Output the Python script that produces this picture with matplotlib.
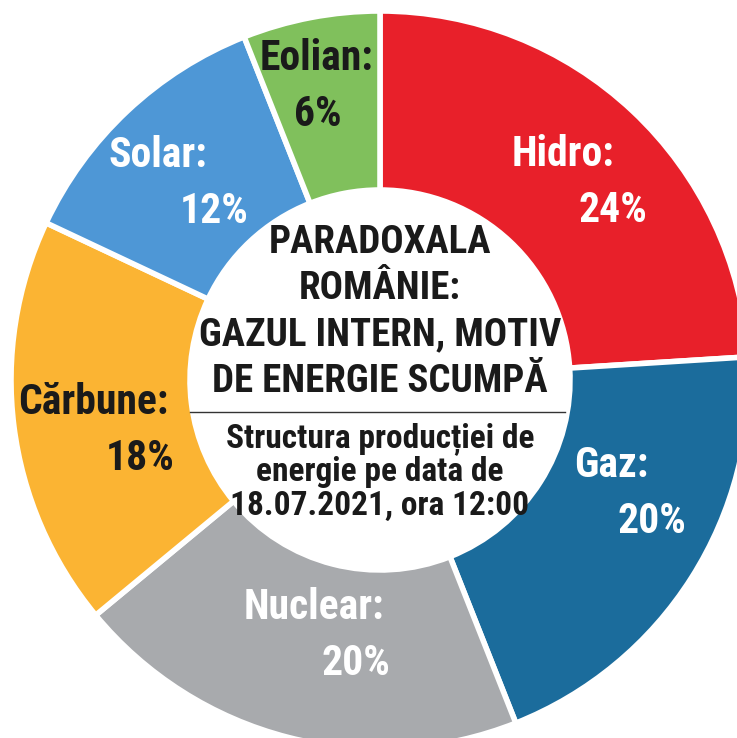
import matplotlib
matplotlib.use("Agg")
import matplotlib.pyplot as plt
import numpy as np

# date
surse = ["Hidro", "Gaz", "Nuclear", "Cărbune", "Solar", "Eolian"]
procente = [24, 20, 20, 18, 12, 6]
culori = ["#E8202A", "#1B6C9C", "#A8AAAD", "#FBB433", "#4E97D6", "#80C05C"]
culori_text = ["white", "white", "white", "#1a1a1a", "white", "#1a1a1a"]

titlu = "PARADOXALA\nROMÂNIE:\nGAZUL INTERN, MOTIV\nDE ENERGIE SCUMPĂ"
subtitlu = "Structura producției de\nenergie pe data de\n18.07.2021, ora 12:00"
sursa = "SURSA: Transelectrica"

plt.rcParams['font.family'] = ['Roboto Condensed', 'PT Sans Narrow', 'DejaVu Sans']

fig = plt.figure(figsize=(7.37, 7.38), dpi=100)
ax = fig.add_axes([0, 0, 1, 1])

R = 369
r_in = 190
wedges, _ = ax.pie(procente, colors=culori, radius=R, startangle=90,
                   counterclock=False,
                   wedgeprops=dict(width=R - r_in, edgecolor="white", linewidth=4))

# pozitia etichetelor: raza, deviatie unghi, decalaj orizontal
raze = [287, 276, 259, 268, 276, 300]
dev_unghi = [-3.2, 8.2, 4.4, 3.6, 1.5, 1.3]
decalaj = [25, 20, 21, 23, 28, 1]

for w, nume, p, c, rr, du, d in zip(wedges, surse, procente, culori_text,
                                    raze, dev_unghi, decalaj):
    ang = np.deg2rad((w.theta1 + w.theta2) / 2 + du)
    x, y = rr * np.cos(ang), rr * np.sin(ang)
    ax.text(x - d, y + 28, nume + ":", ha="center", va="center", color=c,
            fontsize=30, fontweight="bold")
    ax.text(x + d, y - 28, f"{p}%", ha="center", va="center", color=c,
            fontsize=30, fontweight="bold")

ax.text(0, 68, titlu, ha="center", va="center", fontsize=28, fontweight="bold",
        color="#1a1a1a", linespacing=1.32)
ax.plot([-190, 185], [-32, -32], color="#333333", lw=1)
ax.text(0, -92, subtitlu, ha="center", va="center", fontsize=24, fontweight="bold",
        color="#1a1a1a", linespacing=1.06)

ax.text(148, -368, sursa, ha="left", va="top", fontsize=15, fontweight="bold",
        color="#1a1a1a")

ax.set_xlim(-380, 357)
ax.set_ylim(-358, 380)
ax.set_aspect("equal")
ax.axis("off")

fig.savefig("out.png", dpi=100, facecolor="white")
